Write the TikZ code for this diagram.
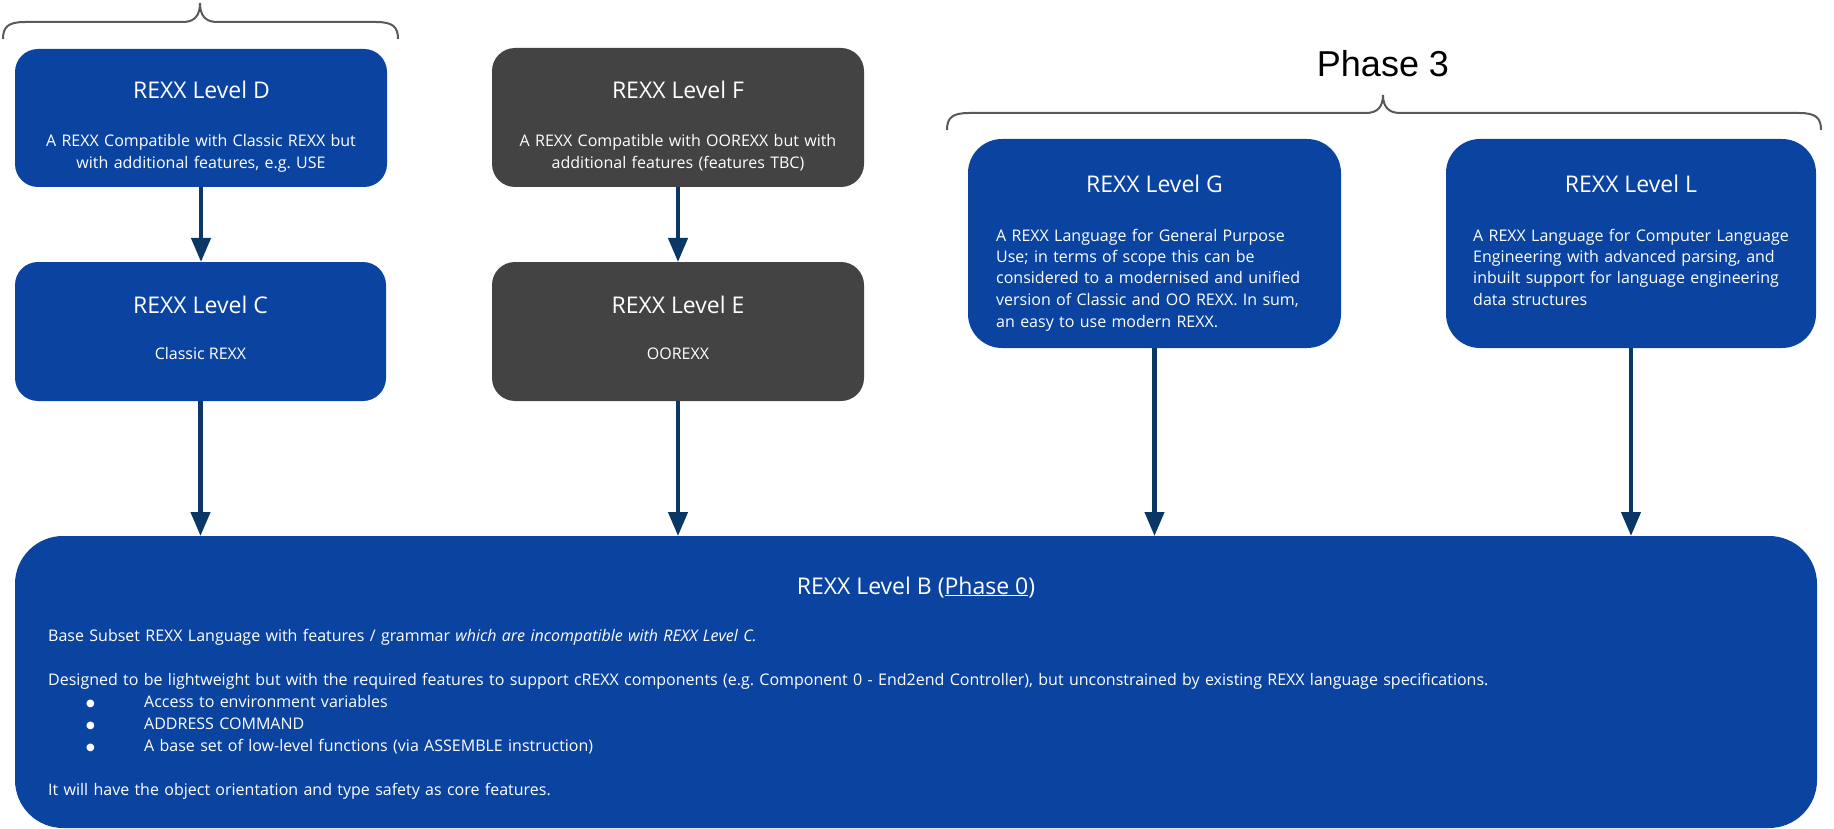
\documentclass[tikz,border=0pt]{standalone}
\usepackage{fontspec}
\setmainfont{Open Sans}
\newfontfamily\phasefont{Liberation Sans}
\newfontfamily\symfont{DejaVu Sans}
\usetikzlibrary{arrows.meta}
\definecolor{boxblue}{HTML}{0B44A0}
\definecolor{boxgray}{HTML}{434343}
\definecolor{arrownavy}{HTML}{0A3766}
\definecolor{bracegray}{HTML}{595959}
\newcommand{\bul}{\makebox[96pt][l]{\hspace{38pt}\raisebox{0.5pt}{\symfont\fontsize{10}{10}\selectfont ●}}}
\frenchspacing
\begin{document}
\begin{tikzpicture}[x=1pt,y=-1pt,
  bluebox/.style={fill=boxblue, draw=none, inner sep=0pt, outer sep=0pt},
  graybox/.style={fill=boxgray, draw=none, inner sep=0pt, outer sep=0pt},
  boxtitle/.style={text=white, font=\fontsize{23}{28}\selectfont, anchor=base, inner sep=0pt},
  boxbody/.style={text=white, font=\fontsize{16}{21.5}\selectfont, inner sep=0pt},
  arr/.style={draw=arrownavy, line width=4.3pt, -{Triangle[length=24pt,width=19pt]}},
  brace/.style={draw=bracegray, line width=2pt}]
\useasboundingbox (0,0) rectangle (1834,829);

% boxes
\node[bluebox, minimum width=372pt, minimum height=138pt, rounded corners=23pt] (D) at (201,118) {};
\node[graybox, minimum width=372pt, minimum height=139pt, rounded corners=23pt] (F) at (678,117.5) {};
\node[bluebox, minimum width=371pt, minimum height=139pt, rounded corners=23pt] (C) at (200.5,331.5) {};
\node[graybox, minimum width=372pt, minimum height=139pt, rounded corners=23pt] (E) at (678,331.5) {};
\node[bluebox, minimum width=373pt, minimum height=209pt, rounded corners=34pt] (G) at (1154.5,243.5) {};
\node[bluebox, minimum width=370pt, minimum height=209pt, rounded corners=34pt] (L) at (1631,243.5) {};
\node[bluebox, minimum width=1802pt, minimum height=292pt, rounded corners=48pt] (B) at (916,682) {};

% titles
\node[boxtitle] (Dt) at (201.5,99) {REXX Level D};
\node[boxtitle] (Ft) at (678,99) {REXX Level F};
\node[boxtitle] (Ct) at (200.5,313) {REXX Level C};
\node[boxtitle] (Et) at (678,313) {REXX Level E};
\node[boxtitle] (Gt) at (1154.5,193) {REXX Level G};
\node[boxtitle] (Lt) at (1631,193) {REXX Level L};
\node[boxtitle] (Bt) at (916,594) {REXX Level B (\underline{Phase 0})};

% bodies
\node[boxbody, anchor=base, text width=366pt, align=center] (Db) at (201,147)
  {A REXX Compatible with Classic REXX but\\with additional features, e.g. USE};
\node[boxbody, anchor=base, text width=366pt, align=center] (Fb) at (678,147)
  {A REXX Compatible with OOREXX but with\\additional features (features TBC)};
\node[boxbody, anchor=base] (Cb) at (200.5,359) {Classic REXX};
\node[boxbody, anchor=base] (Eb) at (678,359) {OOREXX};
\node[boxbody, anchor=base west, text width=345pt, align=left] (Gb) at (996,241)
  {A REXX Language for General Purpose\\Use; in terms of scope this can be\\considered to a modernised and unified\\version of Classic and OO REXX. In sum,\\an easy to use modern REXX.};
\node[boxbody, anchor=base west, text width=345pt, align=left] (Lb) at (1473,241)
  {A REXX Language for Computer Language\\Engineering with advanced parsing, and\\inbuilt support for language engineering\\data structures};
\node[boxbody, font=\fontsize{16}{22}\selectfont, anchor=base west, text width=1740pt, align=left] (Bb) at (48,641)
  {Base Subset REXX Language with features / grammar \textit{which are incompatible with REXX Level C.}\\[22pt]
   Designed to be lightweight but with the required features to support cREXX components (e.g. Component 0 - End2end Controller), but unconstrained by existing REXX language specifications.\\
   \bul Access to environment variables\\
   \bul ADDRESS COMMAND\\
   \bul A base set of low-level functions (via ASSEMBLE instruction)\\[22pt]
   It will have the object orientation and type safety as core features.};

% phase label
\node[anchor=base, inner sep=0pt, font=\phasefont\fontsize{36}{40}\selectfont] (P3) at (1383,77) {Phase 3};

% braces
\draw[brace] (3,39) .. controls (3,27) and (8,22) .. (25,22) -- (183,22)
  .. controls (195,22) and (200,15) .. (200,3)
  .. controls (200,15) and (205,22) .. (217,22) -- (376,22)
  .. controls (393,22) and (398,27) .. (398,39);
\draw[brace] (947,130) .. controls (947,118) and (952,113) .. (969,113) -- (1366,113)
  .. controls (1378,113) and (1383,106) .. (1383,95)
  .. controls (1383,106) and (1388,113) .. (1400,113) -- (1799,113)
  .. controls (1816,113) and (1821,118) .. (1821,130);

% arrows
\draw[arr] (D.south) -- (D.south |- C.north);
\draw[arr] (F.south) -- (F.south |- E.north);
\draw[arr] (C.south) -- (C.south |- B.north);
\draw[arr] (E.south) -- (E.south |- B.north);
\draw[arr] (G.south) -- (G.south |- B.north);
\draw[arr] (L.south) -- (L.south |- B.north);
\end{tikzpicture}
\end{document}
